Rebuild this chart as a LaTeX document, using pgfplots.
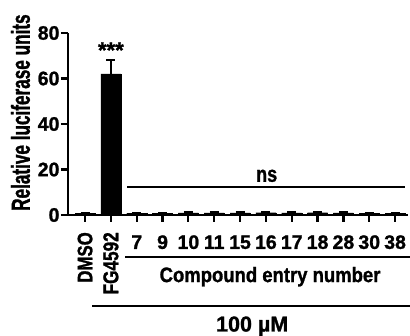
\documentclass[border=0pt]{standalone}
\usepackage{fontspec}
\setmainfont{Liberation Sans}[BoldFeatures={FakeBold=1.2}]
\newfontfamily\fA{Liberation Sans}[FakeStretch=0.8, BoldFeatures={FakeBold=1.2}]
\newfontfamily\fD{Liberation Sans}[FakeStretch=0.88, BoldFeatures={FakeBold=1.2}]
\newfontfamily\fC{Liberation Sans}[FakeStretch=0.66, BoldFeatures={FakeBold=1.2}]
\usepackage{pgfplots}
\pgfplotsset{compat=1.18}
\usetikzlibrary{calc}
\newcommand{\F}[1]{\fontsize{#1}{#1}\selectfont\bfseries}
\begin{document}
\begin{tikzpicture}
\begin{axis}[name=ax, scale only axis, width=340pt, height=182pt,
  xmin=-0.66, xmax=12.5, ymin=0, ymax=80,
  axis x line*=bottom, axis y line*=left,
  axis line style={line width=2.2pt, -},
  tick align=outside, major tick length=7pt,
  tick style={line width=2.2pt, black},
  ytick={0,20,40,60,80},
  xtick={0,...,12},
  xticklabels={},
  /pgf/number format/assume math mode=true,
  yticklabel style={font=\F{19.5}, xshift=2pt},
  clip=false,
]
\addplot[ybar, bar width=20pt, fill=black, draw=black,
  error bars/.cd, y dir=plus, y explicit,
  error bar style={line width=2.2pt},
  error mark options={rotate=90, mark size=4.5pt, line width=2.2pt}]
  coordinates {
  (0,0.8) +- (0,0.2)
  (1,62) +- (0,6)
  (2,0.7) +- (0,0.2)
  (3,0.8) +- (0,0.2)
  (4,0.9) +- (0,0.2)
  (5,0.9) +- (0,0.2)
  (6,0.9) +- (0,0.2)
  (7,1.0) +- (0,0.2)
  (8,0.9) +- (0,0.2)
  (9,1.0) +- (0,0.2)
  (10,0.9) +- (0,0.2)
  (11,0.8) +- (0,0.2)
  (12,0.8) +- (0,0.2)
  };
% y label
\node[font=\fC\F{26}, rotate=90, inner sep=0pt] at (axis cs:-2.5,45) {Relative luciferase units};
% x tick labels
\node[font=\F{19.5}, anchor=base, inner sep=0pt] at (axis cs:2,-14.9) {7};
\node[font=\F{19.5}, anchor=base, inner sep=0pt] at (axis cs:3,-14.9) {9};
\node[font=\F{19.5}, anchor=base, inner sep=0pt] at (axis cs:4,-14.9) {10};
\node[font=\F{19.5}, anchor=base, inner sep=0pt] at (axis cs:5,-14.9) {11};
\node[font=\F{19.5}, anchor=base, inner sep=0pt] at (axis cs:6,-14.9) {15};
\node[font=\F{19.5}, anchor=base, inner sep=0pt] at (axis cs:7,-14.9) {16};
\node[font=\F{19.5}, anchor=base, inner sep=0pt] at (axis cs:8,-14.9) {17};
\node[font=\F{19.5}, anchor=base, inner sep=0pt] at (axis cs:9,-14.9) {18};
\node[font=\F{19.5}, anchor=base, inner sep=0pt] at (axis cs:10,-14.9) {28};
\node[font=\F{19.5}, anchor=base, inner sep=0pt] at (axis cs:11,-14.9) {30};
\node[font=\F{19.5}, anchor=base, inner sep=0pt] at (axis cs:12,-14.9) {38};
\node[font=\fA\F{21}, rotate=90, anchor=east, inner sep=0pt] at (axis cs:0,-7.5) {DMSO};
\node[font=\fA\F{21.5}, rotate=90, anchor=east, inner sep=0pt] at (axis cs:1,-7.5) {FG4592};
% annotations
\node[font=\F{22}] at (axis cs:1,72.5) {***};
\draw[line width=2pt] (axis cs:1.63,12.3) -- (axis cs:12.39,12.3);
\node[font=\fA\F{22.5}, anchor=base, inner sep=0pt] at (axis cs:7.03,14.6) {ns};
\draw[line width=2pt] (axis cs:1.55,-18.4) -- (axis cs:12.58,-18.4);
\node[font=\fD\F{21}, anchor=base, inner sep=0pt] at (axis cs:7.16,-29.5) {Compound entry number};
\draw[line width=2pt] (axis cs:0.27,-40) -- (axis cs:12.58,-40);
\node[font=\F{21.5}, anchor=base, inner sep=0pt] at (axis cs:6.47,-51.2) {100 µM};
\end{axis}
\pgfresetboundingbox
\path[use as bounding box] ($(ax.south west)+(-68pt,-121pt)$) rectangle ++(410pt,336pt);
\end{tikzpicture}
\end{document}
